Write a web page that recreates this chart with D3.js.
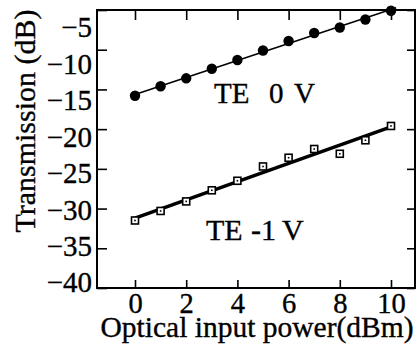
<!DOCTYPE html>
<html>
<head>
<meta charset="utf-8">
<script src="https://cdn.jsdelivr.net/npm/d3@7"></script>
<style>
  body { margin: 0; background: #fff; }
  svg { display: block; font-family: "Liberation Serif", "Times New Roman", serif; }
  svg text { stroke: #000; stroke-width: 0.35px; }
</style>
</head>
<body>
<div id="chart"></div>
<script>
(function(d3) {
  'use strict';

  var power = [0, 1, 2, 3, 4, 5, 6, 7, 8, 9, 10];
  var te0V = [-15.8, -14.6, -13.6, -12.4, -11.3, -10.1, -8.9, -7.9, -7.2, -6.2, -5.1];
  var teMinus1V = [-31.5, -30.3, -29.1, -27.7, -26.5, -24.7, -23.6, -22.5, -23.1, -21.4, -19.6];
  var xTicks = [0, 2, 4, 6, 8, 10];
  var yTicks = [-5, -10, -15, -20, -25, -30, -35, -40];

  var width = 417, height = 356;
  var frame = { left: 97, right: 415, top: 10, bottom: 288 };

  var svg = d3.select('#chart').append('svg')
    .attr('width', width)
    .attr('height', height);

  var x = d3.scaleLinear().domain([0, 10]).range([135, 391]);
  var y = d3.scaleLinear().domain([-40, -5]).range([frame.bottom, frame.top]);
  // the scanned labels sit on a slightly tighter spacing than the ticks
  var yLabel = d3.scaleLinear().domain([-40, -5]).range([282, 27]);

  // ticks, all pointing inward
  svg.append('g')
    .attr('transform', 'translate(' + frame.left + ',0)')
    .call(d3.axisRight(y).tickValues(yTicks).tickSize(10).tickFormat(''))
    .call(function(g) { g.select('.domain').remove(); });
  svg.append('g')
    .attr('transform', 'translate(' + frame.right + ',0)')
    .call(d3.axisLeft(y).tickValues(yTicks).tickSize(8).tickFormat(''))
    .call(function(g) { g.select('.domain').remove(); });
  svg.append('g')
    .attr('transform', 'translate(0,' + frame.top + ')')
    .call(d3.axisBottom(x).tickValues(xTicks).tickSize(10).tickFormat(''))
    .call(function(g) { g.select('.domain').remove(); });
  svg.append('g')
    .attr('transform', 'translate(0,' + frame.bottom + ')')
    .call(d3.axisTop(x).tickValues(xTicks).tickSize(8).tickFormat(''))
    .call(function(g) { g.select('.domain').remove(); });
  svg.selectAll('.tick line').attr('stroke', '#000').attr('stroke-width', 1.6);

  // frame
  svg.append('rect')
    .attr('x', frame.left).attr('y', frame.top)
    .attr('width', frame.right - frame.left)
    .attr('height', frame.bottom - frame.top)
    .attr('fill', 'none')
    .attr('stroke', '#000')
    .attr('stroke-width', 2);

  // tick labels
  svg.append('g')
    .attr('transform', 'translate(92,0)')
    .call(d3.axisLeft(yLabel).tickValues(yTicks).tickSize(0).tickPadding(0))
    .call(function(g) { g.select('.domain').remove(); })
    .selectAll('text')
    .attr('font-family', '"Liberation Serif", "Times New Roman", serif')
    .attr('font-size', 29)
    .attr('fill', '#000')
    .attr('dy', '0.34em');

  svg.append('g')
    .attr('transform', 'translate(0,' + frame.bottom + ')')
    .call(d3.axisBottom(x).tickValues(xTicks).tickSize(0).tickPadding(0))
    .call(function(g) { g.select('.domain').remove(); })
    .selectAll('text')
    .attr('font-family', '"Liberation Serif", "Times New Roman", serif')
    .attr('font-size', 28.5)
    .attr('fill', '#000')
    .attr('dy', 0)
    .attr('y', 25);

  // axis titles
  svg.append('text')
    .attr('x', 257).attr('y', 337)
    .attr('text-anchor', 'middle')
    .attr('font-size', 29.5)
    .text('Optical input power(dBm)');

  svg.append('text')
    .attr('transform', 'translate(35,121) rotate(-90)')
    .attr('text-anchor', 'middle')
    .attr('font-size', 30)
    .text('Transmission (dB)');

  // least-squares fit lines
  function fit(ys) {
    var mx = d3.mean(power), my = d3.mean(ys);
    var sxy = d3.sum(power, function(p, i) { return (p - mx) * (ys[i] - my); });
    var sxx = d3.sum(power, function(p) { return (p - mx) * (p - mx); });
    var b = sxy / sxx;
    return function(p) { return my + b * (p - mx); };
  }
  var line = d3.line()
    .x(function(d) { return x(d[0]); })
    .y(function(d) { return y(d[1]); });

  var f0 = fit(te0V), f1 = fit(teMinus1V);
  svg.append('path')
    .attr('d', line([[0, f0(0)], [10.2, f0(10.2)]]))
    .attr('stroke', '#000').attr('stroke-width', 1.6).attr('fill', 'none');
  svg.append('path')
    .attr('d', line([[0, f1(0)], [10, f1(10)]]))
    .attr('stroke', '#000').attr('stroke-width', 3.5).attr('fill', 'none');

  // TE 0 V : filled circles
  svg.selectAll('.dot0')
    .data(te0V)
    .enter().append('circle')
    .attr('class', 'dot0')
    .attr('cx', function(d, i) { return x(power[i]); })
    .attr('cy', function(d) { return y(d); })
    .attr('r', 5.2)
    .attr('fill', '#000');

  // TE -1 V : open squares with centre dot
  var sq = svg.selectAll('.sq')
    .data(teMinus1V)
    .enter().append('g')
    .attr('class', 'sq')
    .attr('transform', function(d, i) {
      return 'translate(' + x(power[i]) + ',' + y(d) + ')';
    });
  sq.append('rect')
    .attr('x', -3.5).attr('y', -3.5)
    .attr('width', 7).attr('height', 7)
    .attr('fill', '#fff')
    .attr('stroke', '#000')
    .attr('stroke-width', 1.6);
  sq.append('rect')
    .attr('x', -0.8).attr('y', -0.8)
    .attr('width', 1.6).attr('height', 1.6)
    .attr('fill', '#000');

  // curve labels
  var lab0 = svg.append('text').attr('y', 103).attr('font-size', 29);
  lab0.append('tspan').attr('x', 214).text('TE');
  lab0.append('tspan').attr('x', 269).text('0');
  lab0.append('tspan').attr('x', 294).text('V');

  var lab1 = svg.append('text').attr('y', 240).attr('font-size', 30);
  lab1.append('tspan').attr('x', 206).text('TE');
  lab1.append('tspan').attr('x', 251).text('-1');
  lab1.append('tspan').attr('x', 282).text('V');

})(window.d3);
</script>
</body>
</html>
